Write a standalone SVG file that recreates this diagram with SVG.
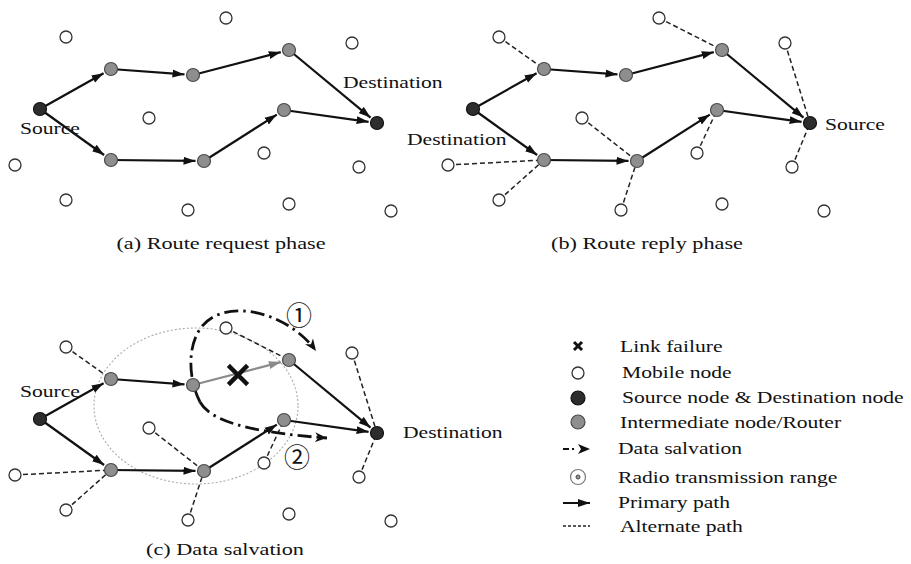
<svg xmlns="http://www.w3.org/2000/svg" width="911" height="564" viewBox="0 0 911 564">
<defs>
<style>
.mob{fill:#fff;stroke:#333;stroke-width:1.3}
.end{fill:#2d2d2d;stroke:#111;stroke-width:1.2}
.mid{fill:#8e8e8e;stroke:#4a4a4a;stroke-width:1.2}
.pri{stroke:#111;stroke-width:2.2;fill:none;marker-end:url(#ah)}
.fail{stroke:#8a8a8a;stroke-width:2.2;fill:none;marker-end:url(#ahg)}
.alt{stroke:#222;stroke-width:1.5;stroke-dasharray:5 3;fill:none}
.salv{stroke:#111;stroke-width:2.8;stroke-dasharray:14 5 2.5 5;fill:none;marker-end:url(#chev)}
.range{fill:none;stroke:#aaa;stroke-width:1.1;stroke-dasharray:2 2}
.lbl{font-family:"Liberation Serif","Times New Roman",serif;font-size:17px;fill:#111}
.cap{font-family:"Liberation Serif","Times New Roman",serif;font-size:17.5px;fill:#111;text-anchor:middle}
.num{font-family:"Noto Sans CJK SC","DejaVu Sans",sans-serif;font-size:26px;fill:#111;text-anchor:middle}
</style>
<marker id="ah" markerUnits="userSpaceOnUse" markerWidth="13" markerHeight="9" refX="12" refY="4.5" orient="auto" viewBox="0 0 13 9"><path d="M0,0.5 L12,4.5 L0,8.5 z" fill="#111"/></marker>
<marker id="ahg" markerUnits="userSpaceOnUse" markerWidth="13" markerHeight="9" refX="12" refY="4.5" orient="auto" viewBox="0 0 13 9"><path d="M0,0.5 L12,4.5 L0,8.5 z" fill="#8a8a8a"/></marker>
<marker id="chev" markerUnits="userSpaceOnUse" markerWidth="14" markerHeight="11" refX="12" refY="5" orient="auto" viewBox="0 0 14 11"><path d="M0,0 L12,5 L0,10 L3.5,5 z" fill="#111"/></marker>
</defs>
<rect width="911" height="564" fill="#fff"/>

<!-- Panel (a) -->
<g id="panel-a">
<g id="a-connectors">
<path class="pri" d="M40,109 L103.6,73.2"/>
<path class="pri" d="M111,69 L184.5,74.4"/>
<path class="pri" d="M193,75 L280.8,52.1"/>
<path class="pri" d="M289,50 L370.5,117.6"/>
<path class="pri" d="M40,109 L104.1,155"/>
<path class="pri" d="M111,160 L195.5,160.9"/>
<path class="pri" d="M204,161 L276.8,114.6"/>
<path class="pri" d="M284,110 L368.6,121.8"/>
</g>
<g id="a-m1"><circle class="mob" cx="226" cy="18" r="6"/></g>
<g id="a-m2"><circle class="mob" cx="66" cy="37" r="6"/></g>
<g id="a-m3"><circle class="mob" cx="352" cy="43" r="6"/></g>
<g id="a-m4"><circle class="mob" cx="149" cy="118" r="6"/></g>
<g id="a-m5"><circle class="mob" cx="15" cy="165" r="6"/></g>
<g id="a-m6"><circle class="mob" cx="264" cy="153" r="6"/></g>
<g id="a-m7"><circle class="mob" cx="359" cy="167" r="6"/></g>
<g id="a-m8"><circle class="mob" cx="66" cy="200" r="6"/></g>
<g id="a-m9"><circle class="mob" cx="188" cy="210" r="6"/></g>
<g id="a-m10"><circle class="mob" cx="289" cy="204" r="6"/></g>
<g id="a-m11"><circle class="mob" cx="391" cy="211" r="6"/></g>
<g id="a-u1"><circle class="mid" cx="111" cy="69" r="6.5"/></g>
<g id="a-u2"><circle class="mid" cx="193" cy="75" r="6.5"/></g>
<g id="a-u3"><circle class="mid" cx="289" cy="50" r="6.5"/></g>
<g id="a-l1"><circle class="mid" cx="111" cy="160" r="6.5"/></g>
<g id="a-l2"><circle class="mid" cx="204" cy="161" r="6.5"/></g>
<g id="a-l3"><circle class="mid" cx="284" cy="110" r="6.5"/></g>
<g id="a-source"><circle class="end" cx="40" cy="109" r="6.5"/><text class="lbl" transform="translate(20,134) scale(1.27,1)">Source</text></g>
<g id="a-destination"><circle class="end" cx="377" cy="123" r="6.5"/><text class="lbl" transform="translate(343,88) scale(1.27,1)">Destination</text></g>
</g>
<text class="cap" transform="translate(221,249) scale(1.27,1)">(a) Route request phase</text>

<!-- Panel (b) -->
<g id="panel-b" transform="translate(433,0)">
<g id="b-connectors">
<path class="alt" d="M66,37 L111,69"/>
<path class="alt" d="M226,18 L289,50"/>
<path class="alt" d="M352,43 L377,123"/>
<path class="alt" d="M149,118 L204,161"/>
<path class="alt" d="M15,165 L111,160"/>
<path class="alt" d="M66,200 L111,160"/>
<path class="alt" d="M264,153 L284,110"/>
<path class="alt" d="M359,167 L377,123"/>
<path class="alt" d="M188,210 L204,161"/>
<path class="pri" d="M40,109 L103.6,73.2"/>
<path class="pri" d="M111,69 L184.5,74.4"/>
<path class="pri" d="M193,75 L280.8,52.1"/>
<path class="pri" d="M289,50 L370.5,117.6"/>
<path class="pri" d="M40,109 L104.1,155"/>
<path class="pri" d="M111,160 L195.5,160.9"/>
<path class="pri" d="M204,161 L276.8,114.6"/>
<path class="pri" d="M284,110 L368.6,121.8"/>
</g>
<g id="b-m1"><circle class="mob" cx="226" cy="18" r="6"/></g>
<g id="b-m2"><circle class="mob" cx="66" cy="37" r="6"/></g>
<g id="b-m3"><circle class="mob" cx="352" cy="43" r="6"/></g>
<g id="b-m4"><circle class="mob" cx="149" cy="118" r="6"/></g>
<g id="b-m5"><circle class="mob" cx="15" cy="165" r="6"/></g>
<g id="b-m6"><circle class="mob" cx="264" cy="153" r="6"/></g>
<g id="b-m7"><circle class="mob" cx="359" cy="167" r="6"/></g>
<g id="b-m8"><circle class="mob" cx="66" cy="200" r="6"/></g>
<g id="b-m9"><circle class="mob" cx="188" cy="210" r="6"/></g>
<g id="b-m10"><circle class="mob" cx="289" cy="204" r="6"/></g>
<g id="b-m11"><circle class="mob" cx="391" cy="211" r="6"/></g>
<g id="b-u1"><circle class="mid" cx="111" cy="69" r="6.5"/></g>
<g id="b-u2"><circle class="mid" cx="193" cy="75" r="6.5"/></g>
<g id="b-u3"><circle class="mid" cx="289" cy="50" r="6.5"/></g>
<g id="b-l1"><circle class="mid" cx="111" cy="160" r="6.5"/></g>
<g id="b-l2"><circle class="mid" cx="204" cy="161" r="6.5"/></g>
<g id="b-l3"><circle class="mid" cx="284" cy="110" r="6.5"/></g>
<g id="b-destination"><circle class="end" cx="40" cy="109" r="6.5"/><text class="lbl" transform="translate(-26,145) scale(1.27,1)">Destination</text></g>
<g id="b-source"><circle class="end" cx="377" cy="123" r="6.5"/><text class="lbl" transform="translate(392,130) scale(1.27,1)">Source</text></g>
</g>
<text class="cap" transform="translate(647,249) scale(1.27,1)">(b) Route reply phase</text>

<!-- Panel (c) -->
<g id="panel-c" transform="translate(0,310)">
<g id="c-range"><ellipse class="range" cx="196" cy="96" rx="102" ry="78"/></g>
<g id="c-connectors">
<path class="alt" d="M66,37 L111,69"/>
<path class="alt" d="M226,18 L289,50"/>
<path class="alt" d="M352,43 L377,123"/>
<path class="alt" d="M149,118 L204,161"/>
<path class="alt" d="M15,165 L111,160"/>
<path class="alt" d="M66,200 L111,160"/>
<path class="alt" d="M264,153 L284,110"/>
<path class="alt" d="M359,167 L377,123"/>
<path class="alt" d="M188,210 L204,161"/>
<path class="pri" d="M40,109 L103.6,73.2"/>
<path class="pri" d="M111,69 L184.5,74.4"/>
<path class="fail" d="M193,75 L280.8,52.1"/>
<path class="pri" d="M289,50 L370.5,117.6"/>
<path class="pri" d="M40,109 L104.1,155"/>
<path class="pri" d="M111,160 L195.5,160.9"/>
<path class="pri" d="M204,161 L276.8,114.6"/>
<path class="pri" d="M284,110 L368.6,121.8"/>
<path class="salv" d="M200,92 C186,65 186,20 215,6 C245,-8 292,8 316,41"/>
<path class="salv" d="M200,92 C210,110 245,122 327,128"/>
</g>
<g id="c-failure"><path d="M230,57 L246,73 M246,57 L230,73" stroke="#111" stroke-width="4.5" stroke-linecap="square"/></g>
<g id="c-m1"><circle class="mob" cx="226" cy="18" r="6"/></g>
<g id="c-m2"><circle class="mob" cx="66" cy="37" r="6"/></g>
<g id="c-m3"><circle class="mob" cx="352" cy="43" r="6"/></g>
<g id="c-m4"><circle class="mob" cx="149" cy="118" r="6"/></g>
<g id="c-m5"><circle class="mob" cx="15" cy="165" r="6"/></g>
<g id="c-m6"><circle class="mob" cx="264" cy="153" r="6"/></g>
<g id="c-m7"><circle class="mob" cx="359" cy="167" r="6"/></g>
<g id="c-m8"><circle class="mob" cx="66" cy="200" r="6"/></g>
<g id="c-m9"><circle class="mob" cx="188" cy="210" r="6"/></g>
<g id="c-m10"><circle class="mob" cx="289" cy="204" r="6"/></g>
<g id="c-m11"><circle class="mob" cx="391" cy="211" r="6"/></g>
<g id="c-u1"><circle class="mid" cx="111" cy="69" r="6.5"/></g>
<g id="c-u2"><circle class="mid" cx="193" cy="75" r="6.5"/></g>
<g id="c-u3"><circle class="mid" cx="289" cy="50" r="6.5"/></g>
<g id="c-l1"><circle class="mid" cx="111" cy="160" r="6.5"/></g>
<g id="c-l2"><circle class="mid" cx="204" cy="161" r="6.5"/></g>
<g id="c-l3"><circle class="mid" cx="284" cy="110" r="6.5"/></g>
<g id="c-source"><circle class="end" cx="40" cy="109" r="6.5"/><text class="lbl" transform="translate(20,87) scale(1.27,1)">Source</text></g>
<g id="c-destination"><circle class="end" cx="377" cy="123" r="6.5"/><text class="lbl" transform="translate(403,128) scale(1.27,1)">Destination</text></g>
<g id="c-label-1"><text class="num" x="299" y="15">①</text></g>
<g id="c-label-2"><text class="num" x="297" y="157">②</text></g>
</g>
<text class="cap" transform="translate(225,555) scale(1.27,1)">(c) Data salvation</text>

<!-- Legend -->
<g id="legend">
<g id="lg-failure"><path d="M574,342 L582,350 M582,342 L574,350" stroke="#111" stroke-width="3"/><text class="lbl" transform="translate(620,352) scale(1.27,1)">Link failure</text></g>
<g id="lg-mobile"><circle class="mob" cx="578" cy="373" r="6"/><text class="lbl" transform="translate(622,378) scale(1.27,1)">Mobile node</text></g>
<g id="lg-end"><circle class="end" cx="578" cy="398" r="7"/><text class="lbl" transform="translate(622,403) scale(1.27,1)">Source node &amp; Destination node</text></g>
<g id="lg-mid"><circle class="mid" cx="578" cy="422" r="7"/><text class="lbl" transform="translate(620,428) scale(1.27,1)">Intermediate node/Router</text></g>
<g id="lg-salv"><path d="M563,449 L569,449 M572,449 L574,449" stroke="#111" stroke-width="2"/><path d="M578,444 L590,449 L578,454 L581,449 z" fill="#111"/><text class="lbl" transform="translate(618,454) scale(1.27,1)">Data salvation</text></g>
<g id="lg-range"><circle cx="578" cy="477" r="7.5" fill="none" stroke="#777" stroke-width="1.2"/><circle cx="578" cy="477" r="2" fill="#999" stroke="#444" stroke-width="1"/><text class="lbl" transform="translate(618,483) scale(1.27,1)">Radio transmission range</text></g>
<g id="lg-primary"><path d="M563,503 L590,503" stroke="#111" stroke-width="2" marker-end="url(#ah)"/><text class="lbl" transform="translate(618,508) scale(1.27,1)">Primary path</text></g>
<g id="lg-alternate"><path d="M563,526 L590,526" stroke="#222" stroke-width="1.5" stroke-dasharray="3 2"/><text class="lbl" transform="translate(620,532) scale(1.27,1)">Alternate path</text></g>
</g>
</svg>
